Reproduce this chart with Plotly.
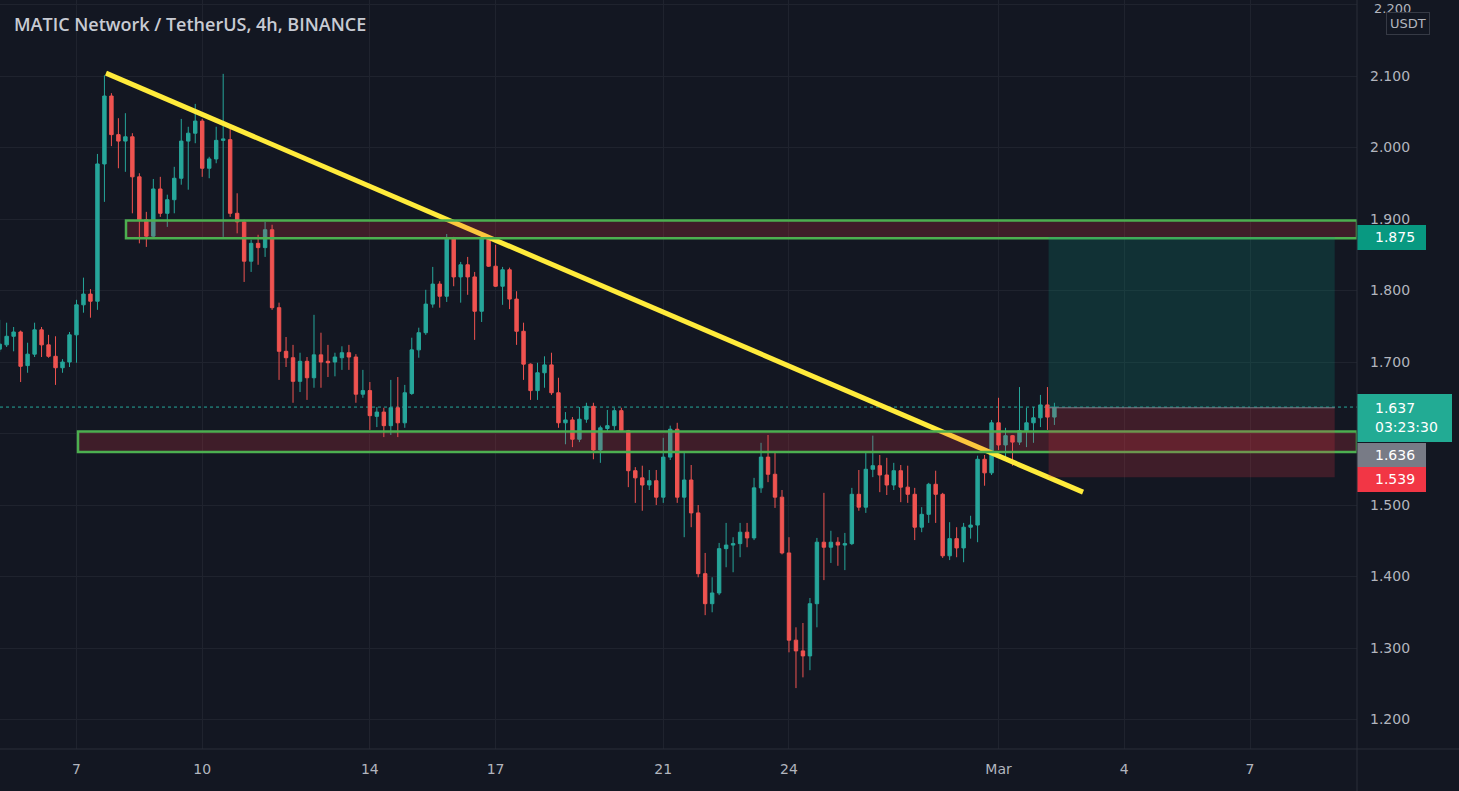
import pandas as pd
import plotly.graph_objects as go

# ---------------- data ----------------
candle_start = "2022-02-05 04:00"   # first visible 4h candle
opens = [1.718,1.724,1.736,1.742,1.695,1.711,1.745,1.724,1.708,1.692,
         1.700,1.738,1.780,1.795,1.785,1.977,2.072,2.018,2.009,2.015,
         1.959,1.899,1.876,1.942,1.908,1.927,1.957,2.009,2.020,2.037,
         1.971,1.984,2.010,2.011,1.908,1.896,1.841,1.866,1.860,1.885,
         1.776,1.715,1.706,1.673,1.701,1.678,1.710,1.701,1.700,1.706,
         1.713,1.707,1.655,1.660,1.624,1.630,1.611,1.636,1.615,1.656,
         1.717,1.741,1.781,1.809,1.792,1.873,1.819,1.836,1.819,1.771,
         1.873,1.834,1.806,1.829,1.788,1.743,1.697,1.660,1.685,1.696,
         1.657,1.615,1.619,1.592,1.620,1.638,1.577,1.607,1.611,1.632,
         1.604,1.548,1.538,1.528,1.534,1.511,1.567,1.606,1.511,1.535,
         1.489,1.404,1.362,1.377,1.439,1.444,1.446,1.462,1.454,1.524,
         1.567,1.543,1.511,1.433,1.311,1.296,1.289,1.362,1.448,1.441,
         1.448,1.444,1.446,1.515,1.497,1.550,1.555,1.542,1.528,1.548,
         1.525,1.515,1.469,1.487,1.529,1.515,1.429,1.453,1.440,1.469,
         1.472,1.564,1.545,1.615,1.584,1.597,1.588,1.604,1.615,1.622,
         1.640,1.623]
highs = [1.759,1.755,1.749,1.744,1.727,1.755,1.749,1.738,1.736,1.704,
         1.742,1.787,1.818,1.802,1.991,2.101,2.076,2.041,2.048,2.020,
         1.964,1.910,1.956,1.959,1.934,1.973,2.040,2.029,2.061,2.040,
         1.987,2.029,2.103,2.027,1.936,1.899,1.871,1.878,1.896,1.892,
         1.783,1.735,1.724,1.713,1.707,1.766,1.741,1.724,1.713,1.722,
         1.724,1.711,1.689,1.672,1.637,1.636,1.675,1.679,1.668,1.734,
         1.748,1.801,1.833,1.813,1.879,1.875,1.840,1.847,1.826,1.878,
         1.875,1.864,1.833,1.832,1.799,1.755,1.698,1.699,1.708,1.713,
         1.678,1.630,1.623,1.637,1.643,1.643,1.611,1.633,1.636,1.636,
         1.605,1.553,1.555,1.549,1.549,1.594,1.611,1.615,1.573,1.556,
         1.500,1.433,1.399,1.447,1.475,1.455,1.475,1.475,1.538,1.587,
         1.598,1.573,1.521,1.455,1.329,1.335,1.370,1.454,1.517,1.464,
         1.455,1.461,1.524,1.549,1.573,1.597,1.570,1.566,1.559,1.556,
         1.555,1.524,1.497,1.531,1.548,1.517,1.476,1.469,1.475,1.485,
         1.569,1.570,1.619,1.650,1.608,1.598,1.665,1.636,1.637,1.654,
         1.665,1.643]
lows = [1.714,1.721,1.715,1.672,1.685,1.707,1.707,1.706,1.668,1.685,
        1.693,1.699,1.769,1.762,1.773,1.924,2.002,1.971,1.966,1.908,
        1.866,1.861,1.875,1.903,1.889,1.908,1.948,1.941,2.006,1.959,
        1.957,1.978,1.875,1.903,1.880,1.812,1.826,1.836,1.847,1.773,
        1.675,1.693,1.643,1.658,1.647,1.664,1.664,1.679,1.680,1.689,
        1.689,1.643,1.650,1.605,1.609,1.595,1.598,1.595,1.608,1.654,
        1.706,1.738,1.776,1.776,1.784,1.806,1.783,1.794,1.731,1.756,
        1.833,1.805,1.780,1.774,1.724,1.675,1.647,1.647,1.664,1.654,
        1.608,1.585,1.581,1.588,1.615,1.564,1.559,1.603,1.605,1.602,
        1.525,1.503,1.492,1.521,1.500,1.503,1.563,1.503,1.455,1.469,
        1.399,1.346,1.350,1.374,1.413,1.406,1.427,1.441,1.451,1.517,
        1.532,1.496,1.431,1.294,1.244,1.259,1.269,1.329,1.395,1.419,
        1.415,1.409,1.444,1.492,1.489,1.539,1.518,1.514,1.521,1.504,
        1.503,1.451,1.462,1.475,1.475,1.426,1.423,1.427,1.420,1.453,
        1.448,1.527,1.542,1.577,1.566,1.555,1.584,1.581,1.587,1.609,
        1.605,1.612]
closes = [1.725,1.736,1.742,1.694,1.711,1.745,1.724,1.708,1.692,1.700,
          1.738,1.780,1.795,1.785,1.977,2.072,2.018,2.009,2.015,1.959,
          1.899,1.876,1.942,1.908,1.927,1.957,2.009,2.020,2.037,1.971,
          1.984,2.010,2.012,1.908,1.896,1.841,1.866,1.860,1.885,1.776,
          1.715,1.706,1.673,1.701,1.678,1.710,1.700,1.699,1.707,1.713,
          1.707,1.655,1.660,1.625,1.630,1.611,1.636,1.615,1.657,1.717,
          1.741,1.781,1.809,1.792,1.873,1.819,1.836,1.819,1.771,1.873,
          1.834,1.806,1.829,1.788,1.743,1.697,1.660,1.685,1.696,1.657,
          1.615,1.619,1.592,1.620,1.638,1.577,1.608,1.611,1.632,1.604,
          1.548,1.538,1.528,1.534,1.511,1.567,1.606,1.511,1.535,1.489,
          1.404,1.362,1.377,1.439,1.444,1.446,1.462,1.454,1.524,1.567,
          1.543,1.511,1.433,1.311,1.296,1.289,1.362,1.448,1.441,1.448,
          1.444,1.446,1.515,1.497,1.550,1.555,1.542,1.528,1.548,1.525,
          1.515,1.469,1.487,1.529,1.515,1.429,1.453,1.440,1.469,1.472,
          1.564,1.545,1.615,1.584,1.597,1.588,1.604,1.615,1.622,1.640,
          1.623,1.637]

# axis
x_range = ["2022-02-05 04:12", "2022-03-09 13:16"]
y_range = [1.1588, 2.2063]
date_ticks = ["2022-02-07", "2022-02-10", "2022-02-14", "2022-02-17", "2022-02-21",
              "2022-02-24", "2022-03-01", "2022-03-04", "2022-03-07"]
date_labels = ["7", "10", "14", "17", "21", "24", "Mar", "4", "7"]
price_ticks = [1.2, 1.3, 1.4, 1.5, 1.6, 1.7, 1.8, 1.9, 2.0, 2.1, 2.2]
price_labels = ["1.200", "1.300", "1.400", "1.500", "", "1.700", "1.800",
                "1.900", "2.000", "2.100", "2.200"]
top_tick = 2.2
top_tick_label = "2.200"

# drawings
trend_x = ["2022-02-07 16:53", "2022-03-03 00:23"]
trend_y = [2.104, 1.518]
upper_zone_x0 = "2022-02-08 04:21"
upper_zone = [1.873, 1.898]
lower_zone_x0 = "2022-02-07 00:52"
lower_zone = [1.574, 1.603]
pos_x = ["2022-03-02 04:40", "2022-03-09 00:30"]
pos_entry = 1.636
pos_target = 1.875
pos_stop = 1.539
last_price = 1.637
countdown = "03:23:30"
title_text = "MATIC Network / TetherUS, 4h, BINANCE"

# ---------------- figure ----------------
times = pd.date_range(candle_start, periods=len(opens), freq="4h")
UP, DOWN = "#26a69a", "#ef5350"
BG = "#131722"
GRID = "#1f232e"
TXT = "#b2b5be"
PLOT_W = 1357.0

fig = go.Figure(go.Candlestick(
    x=times, open=opens, high=highs, low=lows, close=closes,
    increasing=dict(line=dict(color=UP, width=1), fillcolor=UP),
    decreasing=dict(line=dict(color=DOWN, width=1), fillcolor=DOWN),
    hoverinfo="skip",
))

shapes = []
# last price dotted line
shapes.append(dict(type="line", xref="paper", yref="y", x0=0, x1=1,
                   y0=last_price, y1=last_price, layer="between",
                   line=dict(color=UP, width=1, dash="dot")))
# trend line
shapes.append(dict(type="line", xref="x", yref="y", x0=trend_x[0], x1=trend_x[1],
                   y0=trend_y[0], y1=trend_y[1], layer="above",
                   line=dict(color="#ffeb3b", width=5)))
# zones
for x0, (lo, hi) in [(upper_zone_x0, upper_zone), (lower_zone_x0, lower_zone)]:
    shapes.append(dict(type="rect", xref="x", yref="y", x0=x0, x1=x_range[1],
                       y0=lo, y1=hi, layer="above",
                       fillcolor="rgba(242,54,69,0.2)",
                       line=dict(color="#4caf50", width=2.5)))
# position tool
shapes.append(dict(type="rect", xref="x", yref="y", x0=pos_x[0], x1=pos_x[1],
                   y0=pos_entry, y1=pos_target, layer="above",
                   fillcolor="rgba(8,153,129,0.2)", line=dict(width=0)))
shapes.append(dict(type="rect", xref="x", yref="y", x0=pos_x[0], x1=pos_x[1],
                   y0=pos_stop, y1=pos_entry, layer="above",
                   fillcolor="rgba(242,54,69,0.2)", line=dict(width=0)))
shapes.append(dict(type="line", xref="x", yref="y", x0=pos_x[0], x1=pos_x[1],
                   y0=pos_entry, y1=pos_entry, layer="above",
                   line=dict(color="#787b86", width=1)))

# price-scale label boxes (x in paper units beyond the plot, y in price units)
def px(w):
    return 1 + w / PLOT_W

label_boxes = [
    (69, 1.8566, 1.8916, "#089981"),
    (95, 1.5881, 1.6553, "#22ab94"),
    (69, 1.5532, 1.5867, "#787b86"),
    (69, 1.5182, 1.5532, "#f23645"),
]
for w, y0, y1, col in label_boxes:
    shapes.append(dict(type="rect", xref="paper", yref="y", x0=1, x1=px(w),
                       y0=y0, y1=y1, layer="above", fillcolor=col, line=dict(width=0)))
# axis borders extending into margins
shapes.append(dict(type="line", xref="paper", yref="paper", x0=1, x1=1, y0=-0.06, y1=1,
                   line=dict(color="#2a2e39", width=1)))
shapes.append(dict(type="line", xref="paper", yref="paper", x0=0, x1=px(102), y0=0, y1=0,
                   line=dict(color="#2a2e39", width=1)))

lab_font = dict(family="DejaVu Sans", size=14, color="#ffffff")
annotations = [
    dict(text=title_text, xref="paper", yref="paper", x=12 / PLOT_W, y=1 - 24 / 749,
         xanchor="left", yanchor="middle", showarrow=False,
         font=dict(family="Open Sans", size=18, color="#c8cbd3", weight=600)),
    dict(text=top_tick_label, xref="paper", yref="y", x=px(15), y=top_tick,
         xanchor="left", yanchor="middle", yshift=-4, showarrow=False,
         font=dict(family="DejaVu Sans", size=13, color=TXT)),
    dict(text="USDT", xref="paper", yref="paper", x=px(51), y=1 - 23 / 749,
         xanchor="center", yanchor="middle", showarrow=False,
         font=dict(family="DejaVu Sans", size=13, color=TXT),
         bgcolor=BG, bordercolor="#363a45", borderwidth=1, borderpad=3),
    dict(text=f"{pos_target:.3f}", xref="paper", yref="y", x=px(16), y=1.875,
         xanchor="left", yanchor="middle", showarrow=False, font=lab_font),
    dict(text=f"{last_price:.3f}", xref="paper", yref="y", x=px(16), y=1.6357,
         xanchor="left", yanchor="middle", showarrow=False, font=lab_font),
    dict(text=countdown, xref="paper", yref="y", x=px(16), y=1.6091,
         xanchor="left", yanchor="middle", showarrow=False, font=lab_font),
    dict(text=f"{pos_entry:.3f}", xref="paper", yref="y", x=px(16), y=1.5699,
         xanchor="left", yanchor="middle", showarrow=False, font=lab_font),
    dict(text=f"{pos_stop:.3f}", xref="paper", yref="y", x=px(16), y=1.5364,
         xanchor="left", yanchor="middle", showarrow=False, font=lab_font),
]

fig.update_layout(
    width=1459, height=791,
    margin=dict(l=0, r=102, t=0, b=42),
    paper_bgcolor=BG, plot_bgcolor=BG,
    showlegend=False,
    shapes=shapes, annotations=annotations,
    xaxis=dict(type="date", range=x_range, tickvals=date_ticks, ticktext=date_labels,
               showgrid=True, gridcolor=GRID, gridwidth=1, zeroline=False,
               showline=False, ticks="", rangeslider=dict(visible=False),
               tickfont=dict(family="DejaVu Sans", size=14, color=TXT),
               ticklabelstandoff=10),
    yaxis=dict(side="right", range=y_range, tickvals=price_ticks, ticktext=price_labels,
               showgrid=True, gridcolor=GRID, gridwidth=1, zeroline=False,
               showline=False, ticks="",
               tickfont=dict(family="DejaVu Sans", size=14, color=TXT),
               ticklabelstandoff=12),
)

fig.write_html("out.html")
